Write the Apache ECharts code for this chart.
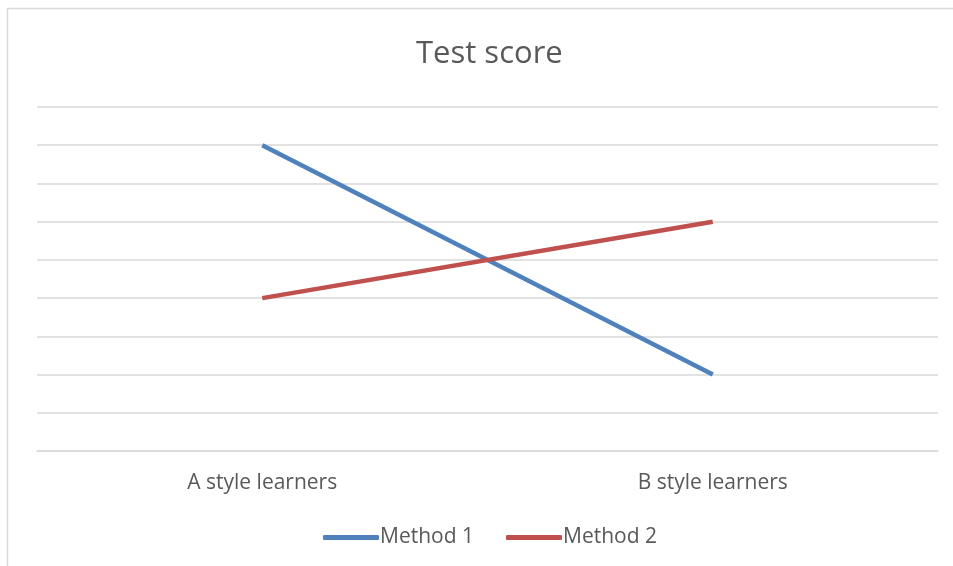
<!DOCTYPE html>
<html><head><meta charset="utf-8">
<script src="https://cdn.jsdelivr.net/npm/echarts@6/dist/echarts.min.js"></script>
<style>html,body{margin:0;padding:0;background:#fff}#c{width:953px;height:566px}</style>
</head><body><div id="c"></div>
<script>
const categories = ['A style learners', 'B style learners'];
const method1 = [8, 2];
const method2 = [4, 6];
const chart = echarts.init(document.getElementById('c'));
chart.setOption({
  animation: false,
  backgroundColor: '#fff',
  graphic: [{type: 'rect', shape: {x: 7.5, y: 8.5, width: 1000, height: 700}, style: {fill: 'none', stroke: '#d9d9d9', lineWidth: 1.5}}],
  title: {text: 'Test score', left: 411, top: 34, textStyle: {fontFamily: 'Open Sans', fontSize: 31, fontWeight: 'normal', color: '#595959'}},
  legend: {left: 318, bottom: 13, itemWidth: 56, itemHeight: 5, itemGap: 32, icon: 'roundRect',
    textStyle: {fontFamily: 'Open Sans', fontSize: 21, color: '#595959', padding: [0, 0, 0, -4]}},
  grid: {left: 37, right: 15, top: 107, bottom: 115},
  xAxis: {type: 'category', data: categories, boundaryGap: true,
    axisLine: {lineStyle: {color: '#d9d9d9', width: 1.5}}, axisTick: {show: false},
    axisLabel: {fontFamily: 'Open Sans', fontSize: 21, color: '#595959', margin: 22}},
  yAxis: {type: 'value', min: 0, max: 9, interval: 1, axisLabel: {show: false},
    axisLine: {show: false}, axisTick: {show: false},
    splitLine: {lineStyle: {color: '#d9d9d9', width: 1.5}}},
  series: [
    {name: 'Method 1', type: 'line', data: method1, symbol: 'none', lineStyle: {color: '#4f81bd', width: 4.5}, itemStyle: {color: '#4f81bd'}},
    {name: 'Method 2', type: 'line', data: method2, symbol: 'none', lineStyle: {color: '#c0504d', width: 4.5}, itemStyle: {color: '#c0504d'}}
  ]
});
</script></body></html>
